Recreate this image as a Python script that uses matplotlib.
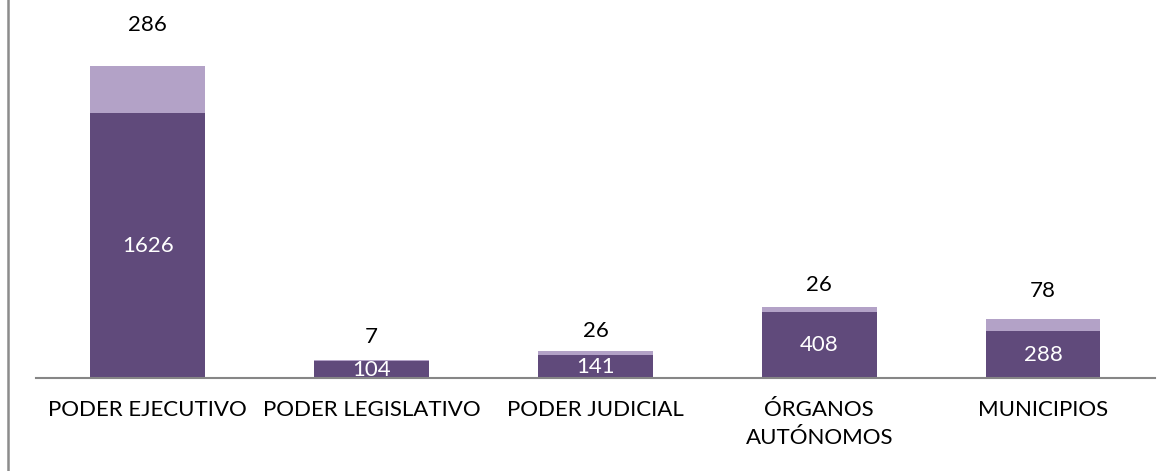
import matplotlib.pyplot as plt
from matplotlib.lines import Line2D

categories = ["PODER EJECUTIVO", "PODER LEGISLATIVO", "PODER JUDICIAL",
              "ÓRGANOS\nAUTÓNOMOS", "MUNICIPIOS"]
base_values = [1626, 104, 141, 408, 288]
top_values = [286, 7, 26, 26, 78]

# label offsets above the bar tops (points), as positioned in the original
top_label_offsets = [29.5, 16.5, 14.5, 16.5, 19.5]

plt.rcParams['font.family'] = ['Lato', 'DejaVu Sans']

fig = plt.figure(figsize=(11.68, 4.71), dpi=100)
ax = fig.add_axes([0.0308, 0.197, 0.958, 0.6926])

x = range(len(categories))
dark = "#604a7b"
light = "#b3a2c7"

ax.bar(x, base_values, width=0.513, color=dark)
totals = [b + t for b, t in zip(base_values, top_values)]
ax.bar(x, top_values, width=0.513, bottom=base_values, color=light)

for i, v in enumerate(base_values):
    ax.text(i, v / 2, str(v), ha="center", va="center", color="white",
            fontsize=16)

for i, (tot, v) in enumerate(zip(totals, top_values)):
    ax.annotate(str(v), xy=(i, tot), xytext=(0, top_label_offsets[i]),
                textcoords="offset points", ha="center", va="center",
                fontsize=16, color="black", annotation_clip=False)

ax.set_xlim(-0.5, len(categories) - 0.5)
ax.set_ylim(0, 2000)
ax.set_xticks(list(x))
ax.set_xticklabels(categories, fontsize=16, linespacing=1.5)
ax.tick_params(axis="x", length=0, pad=15.5)
ax.set_yticks([])
for s in ["top", "right", "left"]:
    ax.spines[s].set_visible(False)
ax.spines["bottom"].set_color("#868686")
ax.spines["bottom"].set_linewidth(1.5)

# outer chart border (left edge visible)
fig.add_artist(Line2D([0.0065, 0.0065], [0, 1], transform=fig.transFigure,
                      color="#8c8c8c", linewidth=1.8))

fig.savefig("out.png", dpi=100)
